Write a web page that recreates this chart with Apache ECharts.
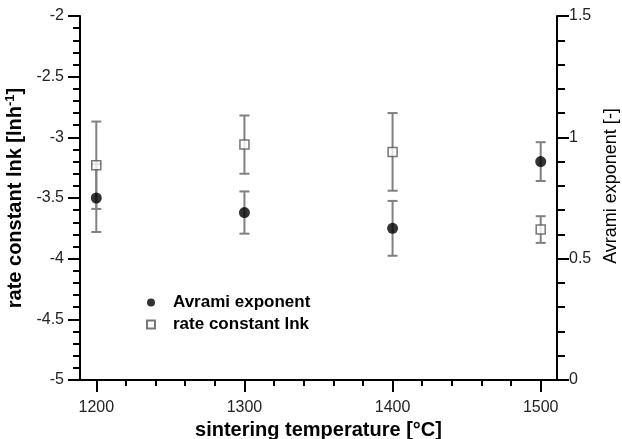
<!DOCTYPE html>
<html>
<head>
<meta charset="utf-8">
<script src="https://cdn.jsdelivr.net/npm/echarts@6/dist/echarts.min.js"></script>
<style>
  html, body { margin: 0; padding: 0; background: #fff; }
  #chart { width: 622px; height: 439px; }
</style>
</head>
<body>
<div id="chart"></div>
<script>
// Sintering temperatures [°C]
const temps = [1200, 1300, 1400, 1500];
// Rate constant ln k [ln h^-1] and its uncertainty (left axis)
const lnk = [-3.23, -3.06, -3.12, -3.76];
const lnkErr = [0.36, 0.24, 0.32, 0.11];
// Avrami exponent [-] and its uncertainty (right axis)
const avrami = [0.75, 0.69, 0.625, 0.90];
const avramiErr = [0.14, 0.087, 0.113, 0.08];
// Axis tick positions
const xMajor = [1200, 1300, 1400, 1500];
const xMinor = [1220, 1240, 1260, 1280, 1320, 1340, 1360, 1380, 1420, 1440, 1460, 1480];

const FONT = 'Liberation Sans, Arial, sans-serif';
const AXIS_COLOR = '#000';
const BAR_COLOR = '#808080';

function pairs(xs, ys) { return xs.map((x, i) => [x, ys[i]]); }
function ranges(xs, ys, es) { return xs.map((x, i) => [x, ys[i] - es[i], ys[i] + es[i]]); }

function errorBarItem(params, api) {
  const x = api.value(0);
  const lo = api.coord([x, api.value(1)]);
  const hi = api.coord([x, api.value(2)]);
  const half = 5;
  const style = { stroke: BAR_COLOR, lineWidth: 2 };
  return {
    type: 'group',
    children: [
      { type: 'line', shape: { x1: lo[0], y1: lo[1], x2: hi[0], y2: hi[1] }, style },
      { type: 'line', shape: { x1: lo[0] - half, y1: lo[1], x2: lo[0] + half, y2: lo[1] }, style },
      { type: 'line', shape: { x1: hi[0] - half, y1: hi[1], x2: hi[0] + half, y2: hi[1] }, style }
    ]
  };
}

const labelStyle = { color: '#222', fontFamily: FONT, fontSize: 16 };

const chart = echarts.init(document.getElementById('chart'), null, { renderer: 'canvas' });
chart.setOption({
  animation: false,
  textStyle: { fontFamily: FONT },
  grid: { left: 80, right: 65, top: 16, bottom: 59, containLabel: false, outerBoundsMode: 'none' },
  legend: {
    orient: 'vertical',
    left: 141,
    top: 289,
    itemWidth: 8,
    itemHeight: 8,
    itemGap: 5,
    textStyle: { fontFamily: FONT, fontSize: 17, lineHeight: 17, fontWeight: 'bold', color: '#000', padding: [0, 0, 0, 13] },
    data: [
      { name: 'Avrami exponent', icon: 'circle' },
      { name: 'rate constant lnk', icon: 'rect' }
    ]
  },
  xAxis: [
    {
      type: 'value',
      min: 1189,
      max: 1511,
      position: 'bottom',
      name: 'sintering temperature [°C]',
      nameLocation: 'middle',
      nameGap: 36,
      nameTextStyle: { fontFamily: FONT, fontSize: 20, fontWeight: 'bold', color: '#000' },
      axisLine: { show: true, lineStyle: { color: AXIS_COLOR, width: 2 } },
      axisTick: { show: true, length: 12, lineStyle: { color: AXIS_COLOR, width: 2 }, customValues: xMajor },
      axisLabel: Object.assign({ margin: 20, customValues: xMajor, formatter: (v) => String(v) }, labelStyle),
      splitLine: { show: false }
    },
    {
      type: 'value',
      min: 1189,
      max: 1511,
      position: 'bottom',
      axisLine: { show: false },
      axisTick: { show: true, length: 6, lineStyle: { color: AXIS_COLOR, width: 2 }, customValues: xMinor },
      axisLabel: { show: false },
      splitLine: { show: false }
    }
  ],
  yAxis: [
    {
      type: 'value',
      min: -5,
      max: -2,
      interval: 0.5,
      position: 'left',
      name: '{t|rate constant lnk [lnh}{s|-1}{t|]}',
      nameLocation: 'middle',
      nameGap: 50,
      nameTextStyle: {
        rich: {
          t: { fontFamily: FONT, fontSize: 20, fontWeight: 'bold', color: '#000', lineHeight: 23 },
          s: { fontFamily: FONT, fontSize: 13, fontWeight: 'bold', color: '#000', verticalAlign: 'top', lineHeight: 23 }
        }
      },
      axisLine: { show: true, lineStyle: { color: AXIS_COLOR, width: 2 } },
      axisTick: { show: true, length: 12, lineStyle: { color: AXIS_COLOR, width: 2 } },
      minorTick: { show: true, splitNumber: 5, length: 7, lineStyle: { color: AXIS_COLOR, width: 2 } },
      axisLabel: Object.assign({ margin: 16 }, labelStyle),
      splitLine: { show: false }
    },
    {
      type: 'value',
      min: 0,
      max: 1.5,
      interval: 0.5,
      position: 'right',
      name: 'Avrami exponent [-]',
      nameLocation: 'middle',
      nameGap: 40,
      nameRotate: 90,
      nameTextStyle: { fontFamily: FONT, fontSize: 18, color: '#000', padding: [0, 0, 0, 24] },
      axisLine: { show: true, lineStyle: { color: AXIS_COLOR, width: 2 } },
      axisTick: { show: true, length: 12, lineStyle: { color: AXIS_COLOR, width: 2 } },
      minorTick: { show: true, splitNumber: 5, length: 8, lineStyle: { color: AXIS_COLOR, width: 2 } },
      axisLabel: Object.assign({ margin: 12 }, labelStyle),
      splitLine: { show: false }
    }
  ],
  series: [
    {
      name: 'Avrami exponent error',
      type: 'custom',
      xAxisIndex: 0,
      yAxisIndex: 1,
      renderItem: errorBarItem,
      encode: { x: 0, y: [1, 2] },
      data: ranges(temps, avrami, avramiErr),
      z: 1
    },
    {
      name: 'rate constant lnk error',
      type: 'custom',
      xAxisIndex: 0,
      yAxisIndex: 0,
      renderItem: errorBarItem,
      encode: { x: 0, y: [1, 2] },
      data: ranges(temps, lnk, lnkErr),
      z: 1
    },
    {
      name: 'Avrami exponent',
      type: 'scatter',
      xAxisIndex: 0,
      yAxisIndex: 1,
      symbol: 'circle',
      symbolSize: 11,
      itemStyle: { color: '#000' },
      data: pairs(temps, avrami),
      z: 3
    },
    {
      name: 'rate constant lnk',
      type: 'scatter',
      xAxisIndex: 0,
      yAxisIndex: 0,
      symbol: 'rect',
      symbolSize: 9,
      itemStyle: { color: '#fff', borderColor: '#555', borderWidth: 1.5 },
      data: pairs(temps, lnk),
      z: 3
    }
  ]
});
</script>
</body>
</html>
